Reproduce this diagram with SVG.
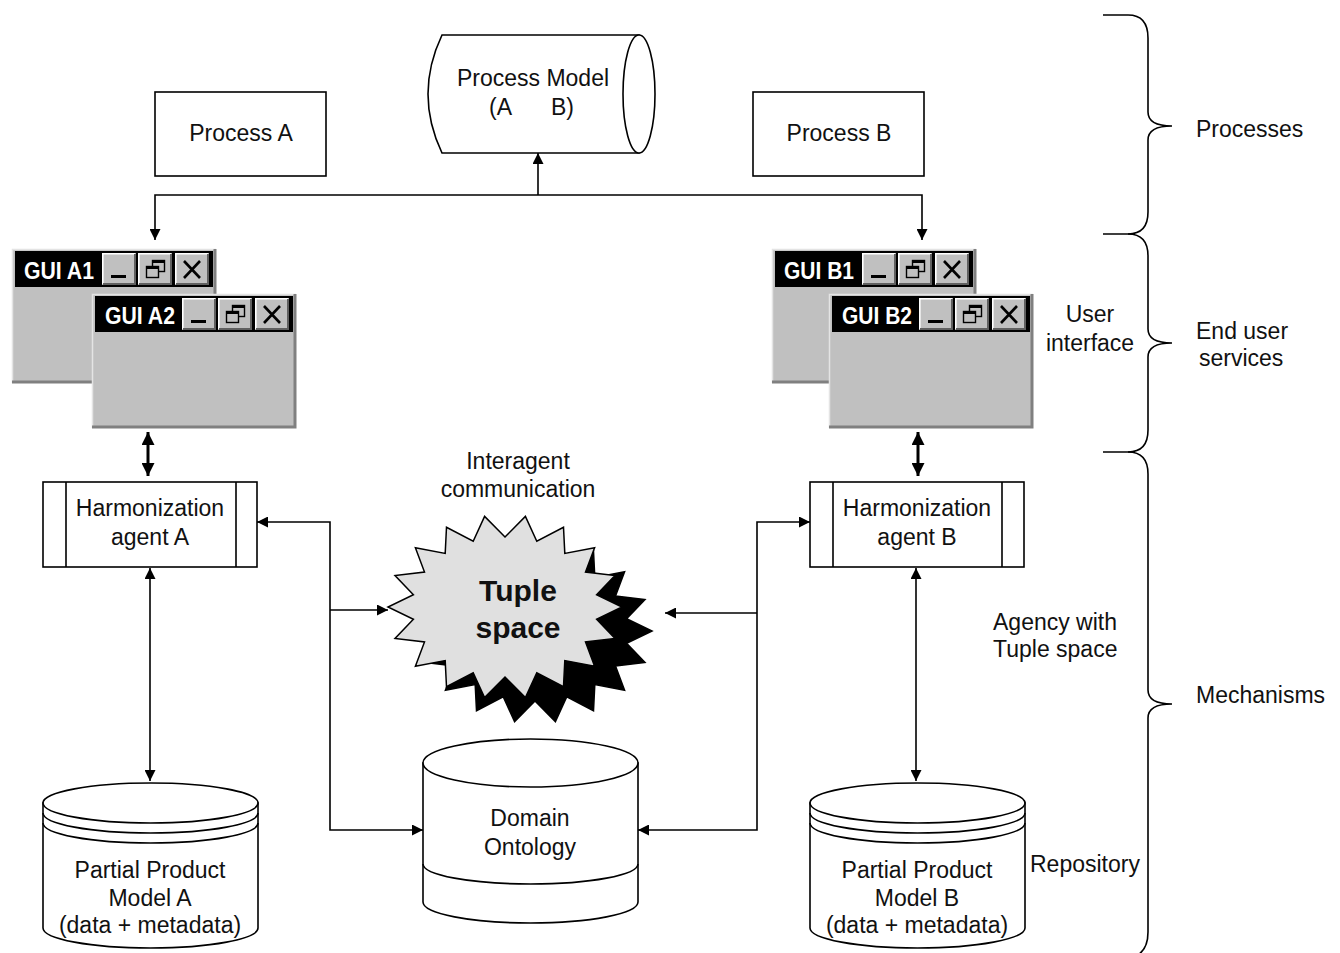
<svg xmlns="http://www.w3.org/2000/svg" width="1340" height="953" viewBox="0 0 1340 953">
<style>
  text { font-family: "Liberation Sans", Arial, sans-serif; font-size: 23px; fill: #111; }
  .c { text-anchor: middle; }
  .gui { font-weight: bold; font-size: 23px; fill: #fff; }
  .big { font-weight: bold; font-size: 30px; text-anchor: middle; }
  .box { fill: #fff; stroke: #000; stroke-width: 1.6; }
  .ln { fill: none; stroke: #000; stroke-width: 1.6; }
  .conn { fill: none; stroke: #000; stroke-width: 1.6; }
  .thick { fill: none; stroke: #000; stroke-width: 3; }
  .brace { fill: none; stroke: #000; stroke-width: 1.6; }
</style>
<defs>
  <marker id="ah" viewBox="0 0 10 10" refX="10" refY="5" markerWidth="11" markerHeight="11" markerUnits="userSpaceOnUse" orient="auto-start-reverse">
    <path d="M0,0 L10,5 L0,10 z" fill="#000"/>
  </marker>
  <marker id="ahb" viewBox="0 0 10 10" refX="10" refY="5" markerWidth="13" markerHeight="13" markerUnits="userSpaceOnUse" orient="auto-start-reverse">
    <path d="M0,0 L10,5 L0,10 z" fill="#000"/>
  </marker>
  <g id="btn">
    <rect width="34" height="32" fill="#c0c0c0"/>
    <path d="M0.8,31 V0.8 H33" stroke="#fff" stroke-width="1.6" fill="none"/>
    <path d="M33,1 V31 H1" stroke="#606060" stroke-width="2" fill="none"/>
  </g>
  <g id="bmin">
    <use href="#btn"/>
    <rect x="9" y="22" width="15" height="3" fill="#000"/>
  </g>
  <g id="bres">
    <use href="#btn"/>
    <rect x="14.5" y="7.5" width="12" height="11" fill="#c0c0c0" stroke="#000" stroke-width="1.4"/>
    <rect x="14" y="7" width="13" height="3" fill="#000"/>
    <rect x="8.5" y="13.5" width="12" height="11" fill="#c0c0c0" stroke="#000" stroke-width="1.4"/>
    <rect x="8" y="13" width="13" height="3" fill="#000"/>
  </g>
  <g id="bclose">
    <use href="#btn"/>
    <path d="M9,8 L25,25 M25,8 L9,25" stroke="#000" stroke-width="2.6" fill="none"/>
  </g>
  <g id="win">
    <rect width="204" height="134" fill="#c0c0c0"/>
    <path d="M0.5,134 V0.5 H204" stroke="#e4e4e4" stroke-width="1.5" fill="none"/>
    <path d="M203,0 V133 H0" stroke="#808080" stroke-width="3" fill="none"/>
    <rect x="3" y="2" width="198" height="36" fill="#000"/>
    <use href="#bmin" x="90" y="4"/>
    <use href="#bres" x="126" y="4"/>
    <use href="#bclose" x="163" y="4"/>
  </g>
</defs>

<rect width="1340" height="953" fill="#fff"/>

<!-- Nodes -->
<g id="process-a">
  <rect class="box" x="155" y="92" width="171" height="84"/>
  <text class="c" x="241" y="141">Process A</text>
</g>
<g id="process-b">
  <rect class="box" x="753" y="92" width="171" height="84"/>
  <text class="c" x="839" y="141">Process B</text>
</g>
<g id="process-model">
  <path class="box" d="M442,35 L639,35 L639,153 L442,153 Q414,94 442,35 Z"/>
  <ellipse class="box" cx="639" cy="94" rx="16" ry="59"/>
  <text class="c" x="533" y="86">Process Model</text>
  <text x="489" y="115">(A</text>
  <text x="551" y="115">B)</text>
</g>

<g id="gui-a1">
  <use href="#win" x="12" y="249"/>
  <text class="gui" x="24" y="279" textLength="70" lengthAdjust="spacingAndGlyphs">GUI A1</text>
</g>
<g id="gui-a2">
  <use href="#win" x="92" y="294"/>
  <text class="gui" x="105" y="324" textLength="70" lengthAdjust="spacingAndGlyphs">GUI A2</text>
</g>
<g id="gui-b1">
  <use href="#win" x="772" y="249"/>
  <text class="gui" x="784" y="279" textLength="70" lengthAdjust="spacingAndGlyphs">GUI B1</text>
</g>
<g id="gui-b2">
  <use href="#win" x="829" y="294"/>
  <text class="gui" x="842" y="324" textLength="70" lengthAdjust="spacingAndGlyphs">GUI B2</text>
</g>

<g id="agent-a">
  <rect class="box" x="43" y="482" width="214" height="85"/>
  <path class="ln" d="M66,482 V567 M236,482 V567"/>
  <text class="c" x="150" y="516">Harmonization</text>
  <text class="c" x="150" y="545">agent A</text>
</g>
<g id="agent-b">
  <rect class="box" x="810" y="482" width="214" height="85"/>
  <path class="ln" d="M833,482 V567 M1002,482 V567"/>
  <text class="c" x="917" y="516">Harmonization</text>
  <text class="c" x="917" y="545">agent B</text>
</g>

<g id="tuple-space">
  <text class="c" x="518" y="469">Interagent</text>
  <text class="c" x="518" y="497">communication</text>
  <polygon transform="translate(30,24)" fill="#000" stroke="#000" stroke-width="1.5" points="622,607 596.6,619.2 615,638.5 585.5,642 594.6,666.2 564.8,660.6 563.5,686.7 536.8,672.8 525.4,697.6 505,677 484.6,697.6 473.2,672.8 446.5,686.7 445.2,660.6 415.4,666.2 424.5,642 395,638.5 413.4,619.2 388,607 413.4,594.8 395,575.5 424.5,572 415.4,547.8 445.2,553.4 446.5,527.3 473.2,541.2 484.6,516.4 505,537 525.4,516.4 536.8,541.2 563.5,527.3 564.8,553.4 594.6,547.8 585.5,572 615,575.5 596.6,594.8"/>
  <polygon fill="#e0e0e0" stroke="#000" stroke-width="1.5" points="622,607 596.6,619.2 615,638.5 585.5,642 594.6,666.2 564.8,660.6 563.5,686.7 536.8,672.8 525.4,697.6 505,677 484.6,697.6 473.2,672.8 446.5,686.7 445.2,660.6 415.4,666.2 424.5,642 395,638.5 413.4,619.2 388,607 413.4,594.8 395,575.5 424.5,572 415.4,547.8 445.2,553.4 446.5,527.3 473.2,541.2 484.6,516.4 505,537 525.4,516.4 536.8,541.2 563.5,527.3 564.8,553.4 594.6,547.8 585.5,572 615,575.5 596.6,594.8"/>
  <text class="big" x="518" y="601">Tuple</text>
  <text class="big" x="518" y="638">space</text>
</g>

<g id="domain-ontology">
  <path class="box" d="M423,763 L423,902 A107.5,21 0 0,0 638,902 L638,763 Z"/>
  <ellipse class="box" cx="530.5" cy="763" rx="107.5" ry="24"/>
  <path class="ln" d="M423,864 A107.5,20 0 0,0 638,864"/>
  <text class="c" x="530" y="826">Domain</text>
  <text class="c" x="530" y="855">Ontology</text>
</g>

<g id="repo-a">
  <path class="box" d="M43,803 L43,928 A107.5,20 0 0,0 258,928 L258,803 Z"/>
  <ellipse class="box" cx="150.5" cy="803" rx="107.5" ry="20"/>
  <path class="ln" d="M43,813 A107.5,20 0 0,0 258,813 M43,823 A107.5,20 0 0,0 258,823"/>
  <text class="c" x="150" y="878">Partial Product</text>
  <text class="c" x="150" y="906">Model A</text>
  <text class="c" x="150" y="933">(data + metadata)</text>
</g>
<g id="repo-b">
  <path class="box" d="M810,803 L810,928 A107.5,20 0 0,0 1025,928 L1025,803 Z"/>
  <ellipse class="box" cx="917.5" cy="803" rx="107.5" ry="20"/>
  <path class="ln" d="M810,813 A107.5,20 0 0,0 1025,813 M810,823 A107.5,20 0 0,0 1025,823"/>
  <text class="c" x="917" y="878">Partial Product</text>
  <text class="c" x="917" y="906">Model B</text>
  <text class="c" x="917" y="933">(data + metadata)</text>
</g>

<!-- Connectors -->
<g id="connectors">
  <path class="conn" d="M155,240 L155,195 L922,195 L922,240" marker-start="url(#ah)" marker-end="url(#ah)"/>
  <path class="conn" d="M538,195 L538,153" marker-end="url(#ah)"/>
  <path class="thick" d="M148,432 L148,476" marker-start="url(#ahb)" marker-end="url(#ahb)"/>
  <path class="thick" d="M918,432 L918,476" marker-start="url(#ahb)" marker-end="url(#ahb)"/>
  <path class="conn" d="M257,522 L330,522 L330,830 L423,830" marker-start="url(#ah)" marker-end="url(#ah)"/>
  <path class="conn" d="M330,610 L388,610" marker-end="url(#ah)"/>
  <path class="conn" d="M810,522 L757,522 L757,830 L638,830" marker-start="url(#ah)" marker-end="url(#ah)"/>
  <path class="conn" d="M757,613 L665,613" marker-end="url(#ah)"/>
  <path class="conn" d="M150,568 L150,781" marker-start="url(#ah)" marker-end="url(#ah)"/>
  <path class="conn" d="M916,568 L916,781" marker-start="url(#ah)" marker-end="url(#ah)"/>
</g>

<!-- Layer labels and braces -->
<g id="labels">
  <text class="c" x="1090" y="322">User</text>
  <text class="c" x="1090" y="351">interface</text>
  <text x="993" y="630">Agency with</text>
  <text x="993" y="657">Tuple space</text>
  <text x="1030" y="872">Repository</text>
  <text x="1196" y="137">Processes</text>
  <text x="1196" y="339">End user</text>
  <text x="1199" y="366">services</text>
  <text x="1196" y="703">Mechanisms</text>
</g>
<g id="braces">
  <path class="brace" d="M1103,15 L1128,15 Q1148,15 1148,38 L1148,112 Q1148,126 1172,126 Q1148,126 1148,140 L1148,212 Q1148,234 1128,234 L1103,234"/>
  <path class="brace" d="M1128,234 Q1148,234 1148,256 L1148,329 Q1148,343 1172,343 Q1148,343 1148,357 L1148,430 Q1148,452 1128,452 L1103,452"/>
  <path class="brace" d="M1128,452 Q1148,452 1148,474 L1148,690 Q1148,704 1172,704 Q1148,704 1148,718 L1148,932 Q1148,950 1136,956"/>
</g>
</svg>
